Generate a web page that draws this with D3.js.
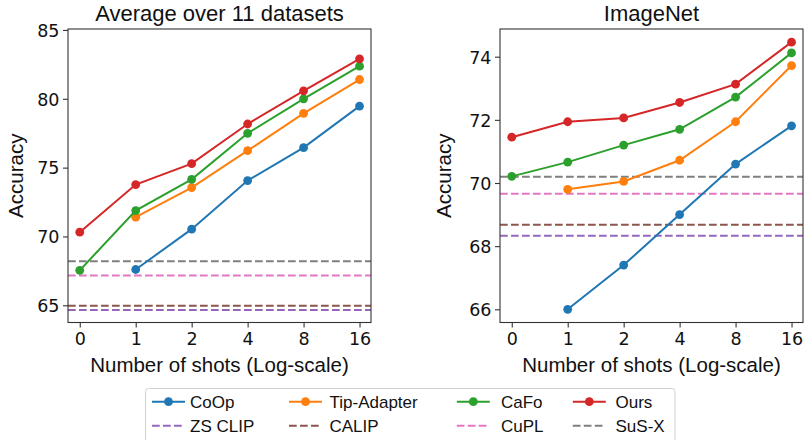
<!DOCTYPE html>
<html>
<head>
<meta charset="utf-8">
<script src="https://cdn.jsdelivr.net/npm/d3@7"></script>
<style>
  body { margin: 0; background: #fff; }
  svg { display: block; }
</style>
</head>
<body>
<svg id="chart" width="804" height="440"></svg>
<script>
// ---------------- data ----------------
const shots = ["0", "1", "2", "4", "8", "16"];
const methods = ["CoOp", "Tip-Adapter", "CaFo", "Ours"];
const baselines = ["ZS CLIP", "CALIP", "CuPL", "SuS-X"];

// Average over 11 datasets (null = not reported)
const avgCoOp = [null, 67.6, 70.53, 74.06, 76.45, 79.47];
const avgTip = [null, 71.4, 73.55, 76.23, 78.94, 81.4];
const avgCaFo = [67.54, 71.88, 74.15, 77.49, 80.0, 82.37];
const avgOurs = [70.31, 73.77, 75.29, 78.17, 80.58, 82.9];
const avgBaselines = [64.66, 64.97, 67.17, 68.2];

// ImageNet
const inCoOp = [null, 66.0, 67.4, 69.0, 70.6, 71.81];
const inTip = [null, 69.8, 70.05, 70.72, 71.94, 73.72];
const inCaFo = [70.21, 70.66, 71.2, 71.7, 72.72, 74.12];
const inOurs = [71.45, 71.94, 72.06, 72.55, 73.13, 74.46];
const inBaselines = [68.33, 68.68, 69.66, 70.2];

const avgTicks = [65, 70, 75, 80, 85];
const inTicks = [66, 68, 70, 72, 74];

const titles = ["Average over 11 datasets", "ImageNet"];
const xLabel = "Number of shots (Log-scale)";
const yLabel = "Accuracy";

// ---------------- styles ----------------
const methodColors = ["#1f77b4", "#ff7f0e", "#2ca02c", "#d62728"];
const baselineColors = ["#9467bd", "#8c564b", "#e377c2", "#7f7f7f"];
const textFont = "'Liberation Sans', Arial, sans-serif";
const tickFont = "'DejaVu Sans', sans-serif";

const svg = d3.select("#chart");

const panels = [
  { left: 68, title: titles[0], series: [avgCoOp, avgTip, avgCaFo, avgOurs], base: avgBaselines,
    ticks: avgTicks, ydom: [63.75, 85.07], ylabX: 22.5 },
  { left: 500, title: titles[1], series: [inCoOp, inTip, inCaFo, inOurs], base: inBaselines,
    ticks: inTicks, ydom: [65.582, 74.877], ylabX: 450.5 }
];
const plotTop = 29, plotBottom = 322.5, plotW = 303;

panels.forEach((p, pi) => {
  const x = d3.scaleLinear().domain([-0.21, 5.205]).range([p.left, p.left + plotW]);
  const y = d3.scaleLinear().domain(p.ydom).range([plotBottom, plotTop]);
  const g = svg.append("g");

  const clipId = "clip" + pi;
  svg.append("clipPath").attr("id", clipId)
    .append("rect").attr("x", p.left).attr("y", plotTop).attr("width", plotW).attr("height", plotBottom - plotTop);

  // baseline dashed lines
  const bg = g.append("g").attr("clip-path", `url(#${clipId})`);
  p.base.forEach((v, i) => {
    bg.append("line")
      .attr("x1", p.left).attr("x2", p.left + plotW)
      .attr("y1", y(v)).attr("y2", y(v))
      .attr("stroke", baselineColors[i]).attr("stroke-width", 2)
      .attr("stroke-dasharray", "7.7,3.3");
  });

  // series lines + markers
  const line = d3.line().defined(d => d.v != null).x(d => x(d.i)).y(d => y(d.v));
  p.series.forEach((vals, si) => {
    const pts = vals.map((v, i) => ({ i, v }));
    bg.append("path").datum(pts)
      .attr("d", line).attr("fill", "none")
      .attr("stroke", methodColors[si]).attr("stroke-width", 2);
    bg.selectAll(null).data(pts.filter(d => d.v != null)).enter()
      .append("circle")
      .attr("cx", d => x(d.i)).attr("cy", d => y(d.v)).attr("r", 4.4)
      .attr("fill", methodColors[si]);
  });

  // axes
  const xAxis = d3.axisBottom(x).tickValues(d3.range(shots.length))
    .tickFormat(i => shots[i]).tickSize(5).tickPadding(4);
  const yAxis = d3.axisLeft(y).tickValues(p.ticks).tickSize(5).tickPadding(3.5);

  const gx = g.append("g").attr("transform", `translate(0,${plotBottom})`).call(xAxis);
  const gy = g.append("g").attr("transform", `translate(${p.left},0)`).call(yAxis);
  [gx, gy].forEach(a => {
    a.select(".domain").remove();
    a.selectAll(".tick line").attr("stroke", "#333").attr("stroke-width", 1.1);
    a.selectAll(".tick text").attr("font-family", tickFont).attr("font-size", 17.5).attr("fill", "#111");
  });
  gx.selectAll(".tick text").attr("dy", "0.78em");
  gy.selectAll(".tick text").attr("dy", "0.36em");

  // frame
  g.append("rect").attr("x", p.left).attr("y", plotTop).attr("width", plotW).attr("height", plotBottom - plotTop)
    .attr("fill", "none").attr("stroke", "#333").attr("stroke-width", 1.1);

  // title
  g.append("text").attr("x", p.left + plotW / 2).attr("y", 21)
    .attr("text-anchor", "middle").attr("font-family", textFont).attr("font-size", 22)
    .attr("fill", "#111").text(p.title);

  // x label
  g.append("text").attr("x", p.left + plotW / 2).attr("y", 372)
    .attr("text-anchor", "middle").attr("font-family", textFont).attr("font-size", 20.5)
    .attr("fill", "#111").text(xLabel);

  // y label
  g.append("text").attr("transform", `translate(${p.ylabX},${(plotTop + plotBottom) / 2}) rotate(-90)`)
    .attr("text-anchor", "middle").attr("font-family", textFont).attr("font-size", 20.5)
    .attr("fill", "#111").text(yLabel);
});

// ---------------- legend ----------------
const legLineX = [152, 289, 456.8, 572.8];
const legTextX = [190, 329.5, 501, 615.5];
const legRowY = [401.7, 425.7];
const lg = svg.append("g");
lg.append("rect").attr("x", 145.5).attr("y", 388.5).attr("width", 529.5).attr("height", 60)
  .attr("rx", 3).attr("fill", "#fff").attr("fill-opacity", 0.8)
  .attr("stroke", "#d0d0d0").attr("stroke-width", 1);

methods.forEach((m, i) => {
  const yy = legRowY[0];
  lg.append("line").attr("x1", legLineX[i]).attr("x2", legLineX[i] + 33)
    .attr("y1", yy).attr("y2", yy).attr("stroke", methodColors[i]).attr("stroke-width", 2);
  lg.append("circle").attr("cx", legLineX[i] + 16.5).attr("cy", yy).attr("r", 4.4).attr("fill", methodColors[i]);
  lg.append("text").attr("x", legTextX[i]).attr("y", yy).attr("dy", "0.36em")
    .attr("font-family", textFont).attr("font-size", 17).attr("fill", "#111").text(m);
});
baselines.forEach((b, i) => {
  const yy = legRowY[1];
  lg.append("line").attr("x1", legLineX[i]).attr("x2", legLineX[i] + 33)
    .attr("y1", yy).attr("y2", yy).attr("stroke", baselineColors[i]).attr("stroke-width", 2)
    .attr("stroke-dasharray", "7.7,3.3");
  lg.append("text").attr("x", legTextX[i]).attr("y", yy).attr("dy", "0.36em")
    .attr("font-family", textFont).attr("font-size", 17).attr("fill", "#111").text(b);
});
</script>
</body>
</html>
